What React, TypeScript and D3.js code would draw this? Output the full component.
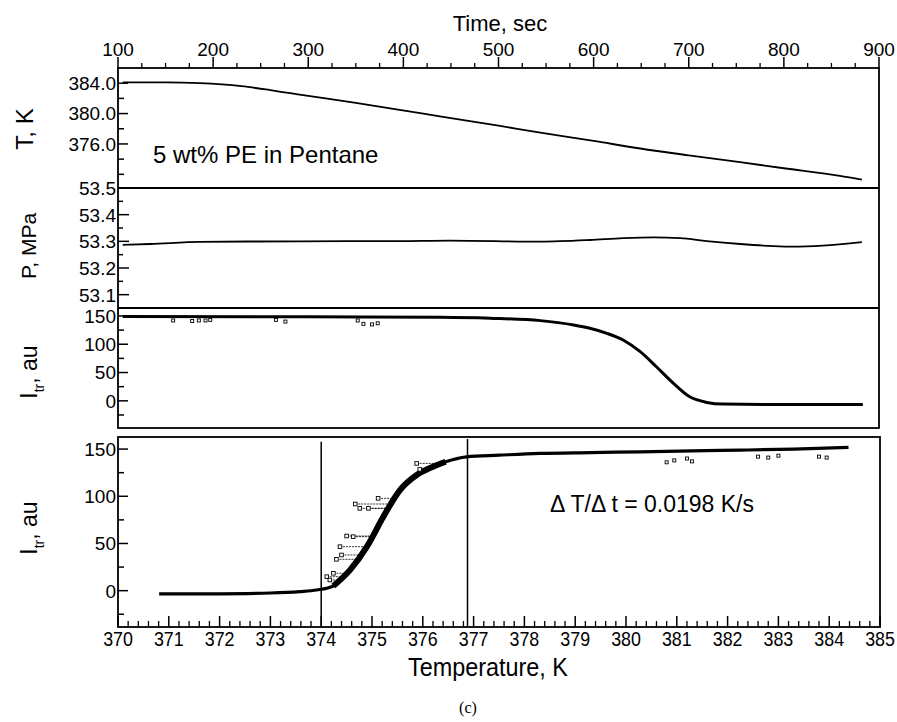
import React from "react";
import * as d3 from "d3";

// ---------- tick / label values ----------
const timeTickValues = [100, 200, 300, 400, 500, 600, 700, 800, 900];
const tempTickValues = [370, 371, 372, 373, 374, 375, 376, 377, 378, 379, 380, 381, 382, 383, 384, 385];
const tLabelValues = [376, 380, 384];
const tMinorValues = [372, 374, 378, 382];
const pLabelValues = [53.1, 53.2, 53.3, 53.4, 53.5];
const iLabelValues = [0, 50, 100, 150];
const iMinorValues = [-25, 25, 75, 125];

// ---------- panel 1: temperature vs time ----------
const tempTime = [105, 150, 186, 230, 260, 291, 350, 396, 440, 500, 544, 600, 649, 700, 754, 800, 859, 882];
const tempValue = [384.1, 384.1, 384.0, 383.6, 383.1, 382.5, 381.4, 380.5, 379.6, 378.4, 377.5, 376.4, 375.4, 374.5, 373.6, 372.8, 371.8, 371.3];

// ---------- panel 2: pressure vs time ----------
const presTime = [105, 134, 186, 291, 396, 449, 544, 596, 631, 663, 691, 719, 754, 789, 810, 841, 882];
const presValue = [53.287, 53.29, 53.298, 53.3, 53.301, 53.303, 53.299, 53.305, 53.312, 53.315, 53.312, 53.301, 53.29, 53.282, 53.28, 53.284, 53.297];

// ---------- panel 3: transmitted intensity vs time ----------
const transTime = [105, 300, 439, 491, 544, 579, 596, 614, 631, 649, 666, 684, 701, 719, 736, 789, 883];
const transValue = [149, 148.5, 147.6, 145.9, 141.7, 134, 128.2, 119.3, 107.5, 86.8, 60.2, 30.8, 7.1, -2.8, -5.8, -6.4, -6.6];
const transMarkTime = [158, 178, 185, 192, 197, 266, 276, 352, 358, 367, 373];
const transMarkValue = [142, 141, 142, 142, 143, 143, 140, 142, 136, 135, 137];

// ---------- panel 4: transmitted intensity vs temperature ----------
const sweepTemp = [370.81, 372.0, 373.0, 373.58, 373.91, 374.24, 374.57, 374.9, 375.22, 375.55, 375.88, 376.2, 376.45, 376.86, 377.5, 378.3, 379.3, 380.28, 381.3, 382.24, 383.3, 384.38];
const sweepValue = [-3.5, -3.3, -2.5, -1, 0.7, 5, 22, 46.6, 78, 106.6, 122.5, 131.3, 136.6, 141.8, 143.5, 145.4, 146.3, 147.1, 148, 148.9, 150, 151.8];
const outlierTemp = [374.11, 374.17, 374.24, 374.3, 374.37, 374.4, 374.5, 374.63, 374.67, 374.76, 374.93, 375.12, 375.88, 375.94];
const outlierValue = [14.8, 11.3, 18.4, 33.2, 46.6, 37.8, 57.9, 57.2, 91.8, 87.2, 87.2, 97.8, 134.8, 128.5];
const dipTemp = [380.8, 380.95, 381.2, 381.3, 382.6, 382.8, 383.0, 383.8, 383.95];
const dipValue = [136, 138, 140, 137, 142, 141, 143, 142, 141];
const cloudMarks = [374.0, 376.88];
const cloudMarkTop = [157.7, 160.6];

const FONT = "'Liberation Sans', Arial, Helvetica, sans-serif";

export default function App() {
  const L = 118, R = 879;
  const p1 = { top: 68, bottom: 188 };
  const p2 = { top: 188, bottom: 308 };
  const p3 = { top: 308, bottom: 428 };
  const p4 = { top: 437, bottom: 627 };

  const xTime = d3.scaleLinear().domain([100, 900]).range([L, R]);
  const xTemp = d3.scaleLinear().domain([370, 385]).range([L, 880]);
  const yT = d3.scaleLinear().domain([370.2, 386]).range([p1.bottom, p1.top]);
  const yP = d3.scaleLinear().domain([53.05, 53.5]).range([p2.bottom, p2.top]);
  const yI3 = d3.scaleLinear().domain([-48, 164]).range([p3.bottom, p3.top]);
  const yI4 = d3.scaleLinear().domain([-38.5, 162.8]).range([p4.bottom, p4.top]);

  const path = (xv: number[], yv: number[], xs: any, ys: any) =>
    d3
      .line<number>()
      .x((d) => xs(xv[d]))
      .y((d) => ys(yv[d]))
      .curve(d3.curveMonotoneX)(d3.range(xv.length)) || "";

  const tPath = path(tempTime, tempValue, xTime, yT);
  const pPath = path(presTime, presValue, xTime, yP);
  const iPath = path(transTime, transValue, xTime, yI3);
  const sPath = path(sweepTemp, sweepValue, xTemp, yI4);
  const riseIdx = d3.range(sweepTemp.length).filter((i) => sweepTemp[i] >= 374.2 && sweepTemp[i] <= 376.5);
  const risePath =
    d3
      .line<number>()
      .x((i) => xTemp(sweepTemp[i]))
      .y((i) => yI4(sweepValue[i]))
      .curve(d3.curveMonotoneX)(riseIdx) || "";

  // temperature on the sweep curve at a given intensity (rising part)
  const tempAt = (v: number) => {
    for (let i = 0; i < sweepValue.length - 1; i++) {
      const a = sweepValue[i], b = sweepValue[i + 1];
      if (v >= a && v <= b && b > a) {
        return sweepTemp[i] + ((v - a) / (b - a)) * (sweepTemp[i + 1] - sweepTemp[i]);
      }
    }
    return null;
  };

  const timeMinor = d3.range(100, 900.1, 25).filter((v) => v % 100 !== 0);
  const tempMinor = d3.range(370, 385.001, 0.2).filter((v) => Math.abs(v - Math.round(v)) > 0.01);
  const pMinor = d3.range(53.05, 53.5, 0.1).map((v) => +v.toFixed(2));

  const sw = 1.8;

  const leftTicks = (vals: number[], ys: any, len: number, key: string) =>
    vals.map((v, i) => (
      <line key={key + i} x1={L} x2={L + len} y1={ys(v)} y2={ys(v)} stroke="#000" strokeWidth={1.5} />
    ));
  const leftLabels = (vals: number[], ys: any, fmt: (v: number) => string, key: string) =>
    vals.map((v, i) => (
      <text key={key + i} x={L - 2} y={ys(v)} dy="0.36em" textAnchor="end" fontSize={19} fontFamily={FONT}>
        {fmt(v)}
      </text>
    ));

  return (
    <svg width={897} height={722} style={{ position: "absolute", left: 0, top: 0, background: "#fff" }}>
      <rect x={0} y={0} width={897} height={722} fill="#fff" />

      {/* ---------- top time axis ---------- */}
      <text x={500} y={31} textAnchor="middle" fontSize={22} fontFamily={FONT}>
        Time, sec
      </text>
      {timeTickValues.map((v, i) => (
        <g key={"tt" + i}>
          <line x1={xTime(v)} x2={xTime(v)} y1={p1.top} y2={p1.top - 11} stroke="#000" strokeWidth={1.5} />
          <text x={xTime(v)} y={56} textAnchor="middle" fontSize={19} fontFamily={FONT}>
            {v}
          </text>
        </g>
      ))}
      {timeMinor.map((v, i) => (
        <line key={"tm" + i} x1={xTime(v)} x2={xTime(v)} y1={p1.top} y2={p1.top - 5} stroke="#000" strokeWidth={1.3} />
      ))}

      {/* ---------- panel frames ---------- */}
      <rect x={L} y={p1.top} width={R - L} height={p3.bottom - p1.top} fill="none" stroke="#000" strokeWidth={sw} />
      <line x1={L} x2={R} y1={p2.top} y2={p2.top} stroke="#000" strokeWidth={sw} />
      <line x1={L} x2={R} y1={p3.top} y2={p3.top} stroke="#000" strokeWidth={sw} />
      <rect x={L} y={p4.top} width={880 - L} height={p4.bottom - p4.top} fill="none" stroke="#000" strokeWidth={sw} />

      {/* ---------- panel 1 ---------- */}
      {leftTicks(tLabelValues, yT, 10, "t1")}
      {leftTicks(tMinorValues, yT, 6, "t2")}
      {leftLabels(tLabelValues, yT, (v) => v.toFixed(1), "tl")}
      <path d={tPath} fill="none" stroke="#000" strokeWidth={1.8} />
      <text x={153} y={163} fontSize={24} fontFamily={FONT}>
        5 wt% PE in Pentane
      </text>
      <text transform={`translate(33,129) rotate(-90)`} textAnchor="middle" fontSize={24} fontFamily={FONT}>
        T, K
      </text>

      {/* ---------- panel 2 ---------- */}
      {leftTicks(pLabelValues, yP, 11, "p1")}
      {leftTicks(pMinor, yP, 5, "p2")}
      {leftLabels(pLabelValues, yP, (v) => v.toFixed(1), "pl")}
      <path d={pPath} fill="none" stroke="#000" strokeWidth={1.8} />
      <text transform={`translate(36,246) rotate(-90)`} textAnchor="middle" fontSize={21} fontFamily={FONT}>
        P, MPa
      </text>

      {/* ---------- panel 3 ---------- */}
      {leftTicks(iLabelValues, yI3, 10, "i1")}
      {leftTicks(iMinorValues, yI3, 6, "i2")}
      {leftLabels(iLabelValues, yI3, (v) => String(v), "il")}
      <path d={iPath} fill="none" stroke="#000" strokeWidth={3} />
      {transMarkTime.map((t, i) => (
        <rect key={"m3" + i} x={xTime(t) - 1.5} y={yI3(transMarkValue[i]) - 1.5} width={3} height={3} fill="#fff" stroke="#000" strokeWidth={0.9} />
      ))}
      <text transform={`translate(37,372) rotate(-90)`} textAnchor="middle" fontSize={23} fontFamily={FONT}>
        I<tspan fontSize={14} dy={7}>tr</tspan>
        <tspan dy={-7}>, au</tspan>
      </text>

      {/* ---------- panel 4 ---------- */}
      {leftTicks(iLabelValues, yI4, 10, "j1")}
      {leftTicks(iMinorValues, yI4, 6, "j2")}
      {leftLabels(iLabelValues, yI4, (v) => String(v), "jl")}
      {tempTickValues.map((v, i) => (
        <line key={"bt" + i} x1={xTemp(v)} x2={xTemp(v)} y1={p4.bottom} y2={p4.bottom - 11} stroke="#000" strokeWidth={1.5} />
      ))}
      {tempMinor.map((v, i) => (
        <line key={"bm" + i} x1={xTemp(v)} x2={xTemp(v)} y1={p4.bottom} y2={p4.bottom - 6} stroke="#000" strokeWidth={1.3} />
      ))}
      {tempTickValues.map((v, i) => (
        <text key={"bl" + i} transform={`translate(${xTemp(v)},646) scale(0.85,1)`} textAnchor="middle" fontSize={21} fontFamily={FONT}>
          {v}
        </text>
      ))}
      <text transform={`translate(488,676) scale(0.9,1)`} textAnchor="middle" fontSize={26} fontFamily={FONT}>
        Temperature, K
      </text>

      {cloudMarks.map((v, i) => (
        <line key={"cm" + i} x1={xTemp(v)} x2={xTemp(v)} y1={yI4(cloudMarkTop[i])} y2={p4.bottom} stroke="#000" strokeWidth={1.5} />
      ))}

      {outlierTemp.map((t, i) => {
        const te = tempAt(outlierValue[i]);
        return te !== null ? (
          <line key={"oc" + i} x1={xTemp(t)} x2={xTemp(te)} y1={yI4(outlierValue[i])} y2={yI4(outlierValue[i])} stroke="#000" strokeWidth={0.8} strokeDasharray="2,1" />
        ) : null;
      })}
      <path d={sPath} fill="none" stroke="#000" strokeWidth={3.2} />
      <path d={risePath} fill="none" stroke="#000" strokeWidth={6} />
      {outlierTemp.map((t, i) => (
        <rect key={"o" + i} x={xTemp(t) - 1.8} y={yI4(outlierValue[i]) - 1.8} width={3.6} height={3.6} fill="#fff" stroke="#000" strokeWidth={0.9} />
      ))}
      {dipTemp.map((t, i) => (
        <rect key={"d" + i} x={xTemp(t) - 1.5} y={yI4(dipValue[i]) - 1.5} width={3} height={3} fill="#fff" stroke="#000" strokeWidth={0.9} />
      ))}
      <text x={550} y={512} fontSize={23} fontFamily={FONT}>
        Δ T/Δ t = 0.0198 K/s
      </text>
      <text transform={`translate(37,528) rotate(-90)`} textAnchor="middle" fontSize={23} fontFamily={FONT}>
        I<tspan fontSize={14} dy={7}>tr</tspan>
        <tspan dy={-7}>, au</tspan>
      </text>

      <text x={468} y={713} textAnchor="middle" fontSize={16} fontFamily="'Liberation Serif', 'Times New Roman', serif">
        (c)
      </text>
    </svg>
  );
}
